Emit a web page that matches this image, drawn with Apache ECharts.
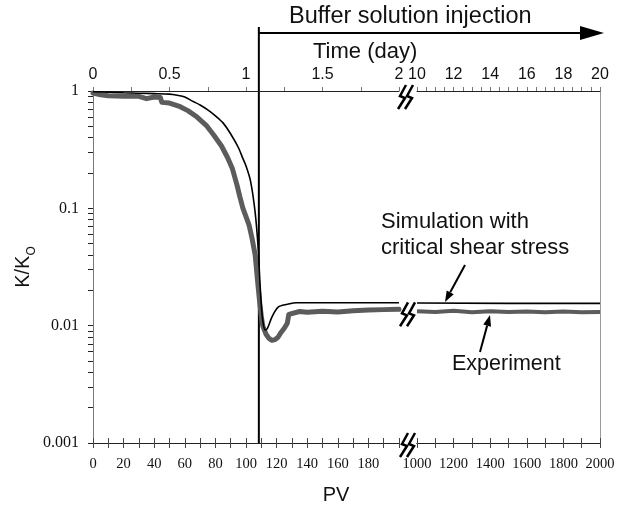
<!DOCTYPE html>
<html>
<head>
<meta charset="utf-8">
<script src="https://cdn.jsdelivr.net/npm/echarts@6/dist/echarts.min.js"></script>
<style>
  html, body { margin: 0; padding: 0; background: #fff; }
  #chart { width: 629px; height: 506px; }
</style>
</head>
<body>
<div id="chart"></div>
<script>
// ticks and labels
const pvLeftLabels = [0, 20, 40, 60, 80, 100, 120, 140, 160, 180];
const pvLeftTicks = [0, 10, 20, 30, 40, 50, 60, 70, 80, 90, 100, 110, 120, 130, 140, 150, 160, 170, 180, 190, 200];
const pvRightLabels = [1000, 1200, 1400, 1600, 1800, 2000];
const pvRightTicks = [1000, 1100, 1200, 1300, 1400, 1500, 1600, 1700, 1800, 1900, 2000];
const dayLeftLabels = [0, 0.5, 1, 1.5, 2];
const dayLeftTicks = [0, 0.25, 0.5, 0.75, 1, 1.25, 1.5, 1.75, 2];
const dayRightLabels = [10, 12, 14, 16, 18, 20];
const dayRightTicks = [10, 10.5, 11, 11.5, 12, 12.5, 13, 13.5, 14, 14.5, 15, 15.5, 16, 16.5, 17, 17.5, 18, 18.5, 19, 19.5, 20];
const kLabels = [1, 0.1, 0.01, 0.001];
const kTicks = [1, 0.9, 0.8, 0.7, 0.6, 0.5, 0.4, 0.3, 0.2,
  0.1, 0.09, 0.08, 0.07, 0.06, 0.05, 0.04, 0.03, 0.02,
  0.01, 0.009, 0.008, 0.007, 0.006, 0.005, 0.004, 0.003, 0.002, 0.001];

// simulation (critical shear stress), PV < 200
const simPvLeft = [0, 10, 20, 30, 40, 50, 55, 60, 65, 70, 75, 80, 85, 90, 95, 98, 100, 103, 106, 108, 109, 110, 111, 112.5, 114, 117, 121, 127, 133, 150, 200];
const simKLeft = [0.985, 0.975, 0.965, 0.957, 0.95, 0.94, 0.92, 0.89, 0.82, 0.76, 0.69, 0.615, 0.535, 0.43, 0.33, 0.265, 0.23, 0.17, 0.092, 0.045, 0.025, 0.015, 0.011, 0.0092, 0.0095, 0.0119, 0.0144, 0.0152, 0.0157, 0.0157, 0.0157];
// simulation, PV 1000-2000
const simPvRight = [1000, 1500, 2000];
const simKRight = [0.0156, 0.0155, 0.0155];

// experiment, PV < 200
const expPvLeft = [0, 5, 10, 20, 30, 35, 40, 44, 45, 50, 57, 62, 68, 74, 79, 84, 88, 91, 94, 96, 98, 100, 102, 104, 106, 107, 108, 109, 110, 111, 113, 115, 117, 119, 121, 123, 125, 127, 128, 129, 135, 140, 150, 160, 170, 180, 190, 200];
const expKLeft = [0.96, 0.93, 0.91, 0.9, 0.9, 0.86, 0.89, 0.88, 0.8, 0.79, 0.735, 0.68, 0.6, 0.51, 0.42, 0.34, 0.27, 0.22, 0.16, 0.125, 0.1, 0.085, 0.072, 0.055, 0.04, 0.029, 0.021, 0.0155, 0.012, 0.0099, 0.0085, 0.0078, 0.0075, 0.0076, 0.008, 0.0088, 0.0095, 0.0105, 0.0125, 0.013, 0.0132, 0.013, 0.0133, 0.0131, 0.0134, 0.0136, 0.0137, 0.0138];
// experiment, PV 1000-2000
const expPvRight = [1000, 1100, 1200, 1300, 1400, 1500, 1600, 1700, 1800, 1900, 2000];
const expKRight = [0.0133, 0.0131, 0.0134, 0.013, 0.0133, 0.0131, 0.0132, 0.013, 0.0132, 0.013, 0.0131];

const injectPV = 108.4;

const zip = (xs, ys) => xs.map((x, i) => [x, ys[i]]);

const serif = 'Liberation Serif';
const sans = 'Liberation Sans';

const chart = echarts.init(document.getElementById('chart'));

function pvAxis(grid, min, max, labels, ticks, showLabels, inside) {
  return {
    type: 'value', gridIndex: grid, position: 'bottom', min: min, max: max,
    axisLine: { show: true, onZero: false, lineStyle: { color: '#222', width: 1 } },
    axisTick: { show: true, inside: inside, length: 5, customValues: ticks, lineStyle: { color: '#444' } },
    axisLabel: {
      show: showLabels, customValues: labels, margin: 14, fontFamily: serif, fontSize: 14.5, color: '#111',
      formatter: v => String(v)
    },
    splitLine: { show: false }
  };
}

function dayAxis(grid, min, max, labels, ticks) {
  return {
    type: 'value', gridIndex: grid, position: 'top', min: min, max: max,
    axisLine: { show: true, onZero: false, lineStyle: { color: '#222', width: 1 } },
    axisTick: { show: true, length: 4, customValues: ticks, lineStyle: { color: '#777' } },
    axisLabel: { customValues: labels, margin: 8, fontFamily: sans, fontSize: 16, color: '#111' },
    splitLine: { show: false }
  };
}

chart.setOption({
  animation: false,
  backgroundColor: '#fff',
  grid: [
    { left: 93, top: 91, width: 306, height: 352 },
    { left: 417, top: 91, width: 183, height: 352 }
  ],
  xAxis: [
    pvAxis(0, 0, 200, pvLeftLabels, pvLeftTicks, true, false),
    dayAxis(0, 0, 2, dayLeftLabels, dayLeftTicks),
    pvAxis(1, 1000, 2000, pvRightLabels, pvRightTicks, true, false),
    dayAxis(1, 10, 20, dayRightLabels, dayRightTicks),
    pvAxis(0, 0, 200, pvLeftLabels, pvLeftTicks, false, true),
    pvAxis(1, 1000, 2000, pvRightLabels, pvRightTicks, false, true)
  ],
  yAxis: [
    {
      type: 'log', gridIndex: 0, min: 0.001, max: 1, logBase: 10,
      name: '{a|K/K}{b|O}', nameLocation: 'middle', nameGap: 60,
      nameTextStyle: {
        rich: {
          a: { fontFamily: sans, fontSize: 20, color: '#111', lineHeight: 24, verticalAlign: 'bottom' },
          b: { fontFamily: sans, fontSize: 12, color: '#111', lineHeight: 24, verticalAlign: 'bottom', padding: [0, 0, -5, 0] }
        }
      },
      axisLine: { show: true, onZero: false, lineStyle: { color: '#777', width: 1 } },
      axisTick: { show: true, length: 5, customValues: kTicks, lineStyle: { color: '#222' } },
      axisLabel: { customValues: kLabels, margin: 14, fontFamily: serif, fontSize: 16, color: '#111' },
      splitLine: { show: false }
    },
    {
      type: 'log', gridIndex: 0, min: 0.001, max: 1, logBase: 10,
      axisLine: { show: false },
      axisTick: { show: true, inside: true, length: 5, customValues: kTicks, lineStyle: { color: '#222' } },
      axisLabel: { show: false },
      splitLine: { show: false }
    },
    {
      type: 'log', gridIndex: 1, min: 0.001, max: 1, logBase: 10, position: 'right',
      axisLine: { show: true, lineStyle: { color: '#999', width: 1 } },
      axisTick: { show: false },
      axisLabel: { show: false },
      splitLine: { show: false }
    }
  ],
  series: [
    {
      name: 'Experiment', type: 'line', xAxisIndex: 0, yAxisIndex: 0,
      data: zip(expPvLeft, expKLeft), showSymbol: false,
      lineStyle: { color: '#5c5c5c', width: 5, cap: 'round', join: 'round' }
    },
    {
      name: 'Experiment', type: 'line', xAxisIndex: 2, yAxisIndex: 2,
      data: zip(expPvRight, expKRight), showSymbol: false,
      lineStyle: { color: '#5c5c5c', width: 4 }
    },
    {
      name: 'Simulation', type: 'line', xAxisIndex: 0, yAxisIndex: 0,
      data: zip(simPvLeft, simKLeft), showSymbol: false, smooth: 0.3,
      lineStyle: { color: '#000', width: 1.6 }
    },
    {
      name: 'Simulation', type: 'line', xAxisIndex: 2, yAxisIndex: 2,
      data: zip(simPvRight, simKRight), showSymbol: false,
      lineStyle: { color: '#000', width: 1.6 }
    }
  ]
});

// annotations placed from the axes' own pixel mapping
const pxInject = chart.convertToPixel({ xAxisIndex: 0 }, injectPV);
const yTop = chart.convertToPixel({ yAxisIndex: 0 }, 1);
const yBottom = chart.convertToPixel({ yAxisIndex: 0 }, 0.001);
const yCurve = chart.convertToPixel({ yAxisIndex: 0 }, 0.0125);
const xBreak = (chart.convertToPixel({ xAxisIndex: 0 }, 200) + chart.convertToPixel({ xAxisIndex: 2 }, 1000)) / 2;

function breakMark(cx, cy) {
  const stroke = dx => ({
    type: 'polyline',
    shape: { points: [[cx + dx + 5, cy - 12], [cx + dx - 1, cy - 1], [cx + dx + 4, cy + 1], [cx + dx - 3, cy + 12]] },
    style: { stroke: '#000', lineWidth: 2.5, fill: null }
  });
  return [
    { type: 'rect', shape: { x: cx - 9, y: cy - 3, width: 18, height: 6 }, style: { fill: '#fff' } },
    stroke(-5), stroke(2)
  ];
}

function arrow(x1, y1, x2, y2, len, half) {
  const a = Math.atan2(y2 - y1, x2 - x1);
  const bx = x2 - len * Math.cos(a), by = y2 - len * Math.sin(a);
  const nx = -Math.sin(a) * half, ny = Math.cos(a) * half;
  return [
    { type: 'line', shape: { x1: x1, y1: y1, x2: bx, y2: by }, style: { stroke: '#000', lineWidth: 2 } },
    { type: 'polygon', shape: { points: [[x2, y2], [bx + nx, by + ny], [bx - nx, by - ny]] }, style: { fill: '#000' } }
  ];
}

function label(text, x, y, size, align) {
  return {
    type: 'text', x: x, y: y,
    style: { text: text, fontFamily: sans, fontSize: size, fill: '#111', align: align || 'left', verticalAlign: 'middle' }
  };
}

chart.setOption({
  graphic: [].concat(
    [{ type: 'line', shape: { x1: pxInject, y1: 27, x2: pxInject, y2: yBottom }, style: { stroke: '#000', lineWidth: 2 } }],
    arrow(pxInject, 33, 604, 33, 24, 7),
    breakMark(xBreak - 2, yTop + 6),
    breakMark(xBreak, yCurve),
    breakMark(xBreak, yBottom + 2),
    arrow(465, 265, 445, 302, 11, 4),
    arrow(480, 352, 490, 315, 11, 4),
    [
      label('Buffer solution injection', 289, 17, 23.5),
      label('Time (day)', 313, 52, 22),
      label('Simulation with', 381, 222, 22),
      label('critical shear stress', 381, 248, 22),
      label('Experiment', 452, 364, 21.5),
      label('PV', 336, 495, 20, 'center')
    ]
  )
});
</script>
</body>
</html>
